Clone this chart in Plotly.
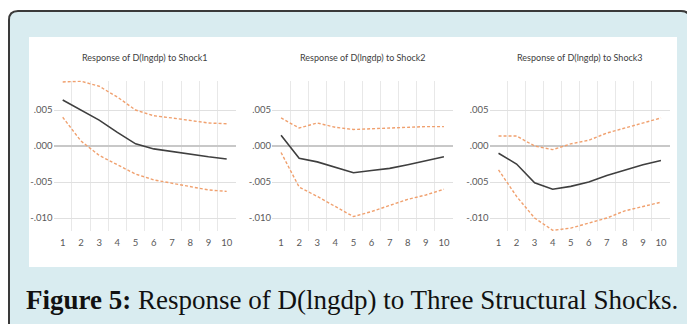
import plotly.graph_objects as go

W, H = 687, 324

periods = list(range(1, 11))

shock1_resp = [0.0064, 0.0050, 0.0036, 0.0019, 0.0003, -0.0004, -0.0008, -0.0012, -0.0015, -0.0018]
shock1_upper = [0.0089, 0.0090, 0.0083, 0.0068, 0.0050, 0.0042, 0.0039, 0.0035, 0.0032, 0.0031]
shock1_lower = [0.0040, 0.0007, -0.0013, -0.0026, -0.0039, -0.0047, -0.0052, -0.0057, -0.0061, -0.0063]

shock2_resp = [0.0015, -0.0017, -0.0022, -0.0030, -0.0037, -0.0034, -0.0031, -0.0026, -0.0021, -0.0015]
shock2_upper = [0.0039, 0.0025, 0.0032, 0.0026, 0.0023, 0.0024, 0.0026, 0.0026, 0.0027, 0.0027]
shock2_lower = [-0.0009, -0.0057, -0.0070, -0.0084, -0.0098, -0.0091, -0.0082, -0.0074, -0.0068, -0.0060]

shock3_resp = [-0.0010, -0.0025, -0.0051, -0.0060, -0.0056, -0.0050, -0.0041, -0.0033, -0.0026, -0.0020]
shock3_upper = [0.0014, 0.0014, 0.0000, -0.0005, 0.0003, 0.0008, 0.0018, 0.0025, 0.0032, 0.0039]
shock3_lower = [-0.0033, -0.0070, -0.0100, -0.0117, -0.0114, -0.0107, -0.0100, -0.0090, -0.0084, -0.0078]

y_tick_vals = [0.005, 0.0, -0.005, -0.010]
y_tick_text = [".005", ".000", "-.005", "-.010"]
x_tick_text = [str(p) for p in periods]

titles = ["Response of D(lngdp) to Shock1",
          "Response of D(lngdp) to Shock2",
          "Response of D(lngdp) to Shock3"]
caption_bold = "Figure 5:"
caption_rest = " Response of D(lngdp) to Three Structural Shocks."

panels = [
    (shock1_resp, shock1_upper, shock1_lower),
    (shock2_resp, shock2_upper, shock2_lower),
    (shock3_resp, shock3_upper, shock3_lower),
]

def px(x):
    return x / W

def py(y):
    return 1 - y / H

# plot-area pixel extents of each panel
x_domains_px = [(53.6, 235.8), (272, 453), (489.5, 670)]
y_top_px, y_bot_px = 80.5, 231

BLACK = "#3f3f3f"
ORANGE = "#F0A06E"
NARROW = "Liberation Sans Narrow, Arial Narrow, Lato, sans-serif"
TICK_FONT = dict(family=NARROW, size=9.5, color="#595959")

fig = go.Figure()

for i, (resp, up, lo) in enumerate(panels):
    xa = "x" if i == 0 else f"x{i+1}"
    ya = "y" if i == 0 else f"y{i+1}"
    for series, color, dash, width in [(up, ORANGE, "3px,2px", 1.4),
                                       (lo, ORANGE, "3px,2px", 1.4),
                                       (resp, BLACK, "solid", 1.6)]:
        fig.add_trace(go.Scatter(x=periods, y=series, mode="lines",
                                 line=dict(color=color, width=width, dash=dash),
                                 xaxis=xa, yaxis=ya, showlegend=False,
                                 hoverinfo="skip"))

layout = dict(
    width=W, height=H,
    margin=dict(l=0, r=0, t=0, b=0),
    paper_bgcolor="white",
    plot_bgcolor="rgba(0,0,0,0)",
    showlegend=False,
)

for i, (x0, x1) in enumerate(x_domains_px):
    xk = "xaxis" if i == 0 else f"xaxis{i+1}"
    yk = "yaxis" if i == 0 else f"yaxis{i+1}"
    ya = "y" if i == 0 else f"y{i+1}"
    xa = "x" if i == 0 else f"x{i+1}"
    layout[xk] = dict(
        domain=[px(x0), px(x1)], anchor=ya, range=[0.5, 10.5],
        tickmode="array", tickvals=periods, ticktext=x_tick_text,
        showgrid=False, zeroline=False, showline=False, ticks="",
        tickfont=TICK_FONT, ticklabelstandoff=4,
        minor=dict(tickmode="array", tickvals=[p + 0.5 for p in periods[:-1]],
                   showgrid=True, gridcolor="#e8e8e8", gridwidth=1, ticks=""),
    )
    layout[yk] = dict(
        domain=[py(y_bot_px), py(y_top_px)], anchor=xa, range=[-0.0118, 0.0091],
        tickmode="array", tickvals=y_tick_vals, ticktext=y_tick_text,
        showgrid=True, gridcolor="#e0e0e0", gridwidth=1,
        zeroline=True, zerolinecolor="#c8c8c8", zerolinewidth=2,
        showline=False, ticks="", tickfont=TICK_FONT,
    )

fig.update_layout(**layout)

# decorative frame: rounded light-blue box with dark border, white chart panel
L, T, R, B, r = 9, 11, 690, 340, 9
path = (f"M {px(L)},{py(B)} L {px(L)},{py(T + r)} "
        f"Q {px(L)},{py(T)} {px(L + r)},{py(T)} "
        f"L {px(R - r)},{py(T)} Q {px(R)},{py(T)} {px(R)},{py(T + r)} "
        f"L {px(R)},{py(B)} Z")
fig.add_shape(type="path", path=path, xref="paper", yref="paper",
              fillcolor="#d9ecf0", line=dict(color="#3a3a3a", width=2), layer="below")
fig.add_shape(type="rect", xref="paper", yref="paper",
              x0=px(29), x1=px(677), y0=py(267), y1=py(37),
              fillcolor="white", line=dict(width=0), layer="below")

for i, (x0, x1) in enumerate(x_domains_px):
    fig.add_annotation(text=titles[i], xref="paper", yref="paper",
                       x=px((x0 + x1) / 2), y=py(57), xanchor="center", yanchor="middle",
                       showarrow=False,
                       font=dict(family=NARROW, size=9, color="#404040"))

fig.add_annotation(text=f"<b>{caption_bold}</b>{caption_rest}", xref="paper", yref="paper",
                   x=px(352), y=py(300), xanchor="center", yanchor="middle", showarrow=False,
                   font=dict(family="Liberation Serif, serif", size=27, color="#111111"))

fig.write_html("out.html", config={"displayModeBar": False},
               post_script="document.body.style.margin='0px';document.body.style.overflow='hidden';")
